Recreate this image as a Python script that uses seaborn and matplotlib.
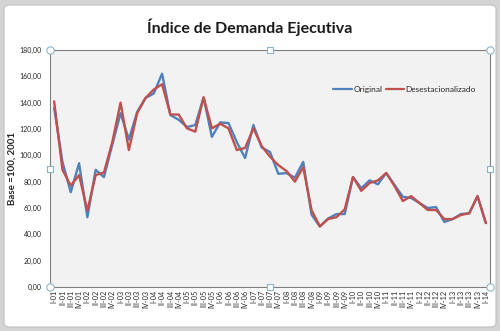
import matplotlib
matplotlib.use("Agg")
import matplotlib.pyplot as plt
from matplotlib.patches import FancyBboxPatch
import seaborn as sns
import pandas as pd
import numpy as np

quarters = []
for yr in range(1, 14):
    for q in ["I", "II", "III", "IV"]:
        quarters.append(f"{q}-{yr:02d}")
quarters.append("I-14")

original = [136, 95, 72, 94, 53, 89, 83.5, 108, 132, 112, 133, 143.5, 147, 162,
            130.6, 127, 121.5, 123, 144, 114, 125, 124.5, 110, 98, 123, 106,
            102.5, 86, 86.5, 83, 95, 55, 46, 52, 55.4, 55.4, 83.5, 75, 81, 78,
            86.6, 77.5, 68.5, 67.6, 63.8, 60, 60.7, 49.4, 51.6, 55.4, 56, 69, 48.6]
desest = [141, 89, 77, 85, 58, 85, 87, 110, 140, 104, 132, 143.5, 150, 154,
          131, 131, 120.5, 118, 144, 120.5, 124, 120.5, 104, 105.6, 120.5, 107,
          99, 92.6, 88, 80, 91, 58.5, 46, 51.6, 53, 59, 83.5, 73, 79, 81,
          86.6, 76.7, 65.3, 69, 63.8, 58.5, 58.5, 51.6, 51.6, 54.7, 56, 69, 48.6]

series_names = ["Original", "Desestacionalizado"]
colors = ["#4F81BD", "#C0504D"]

df = pd.DataFrame({
    "idx": list(range(len(quarters))) * 2,
    "valor": original + desest,
    "serie": [series_names[0]] * len(quarters) + [series_names[1]] * len(quarters),
})

sns.set_theme(style="white")
plt.rcParams["font.family"] = ["Lato", "DejaVu Sans"]

fig = plt.figure(figsize=(5, 3.31), dpi=100)
fig.patch.set_facecolor("#D4D4D4")
bg = FancyBboxPatch((4 / 500, 4 / 331), 492 / 500, 322 / 331,
                    boxstyle="round,pad=0,rounding_size=0.012",
                    transform=fig.transFigure, facecolor="white",
                    edgecolor="#BFBFBF", linewidth=0.8, zorder=-10)
fig.add_artist(bg)

ax = fig.add_axes([50 / 500, 1 - 287 / 331, 440 / 500, 237 / 331])
ax.set_zorder(1)
ax.set_facecolor("#F2F2F2")

sns.lineplot(data=df, x="idx", y="valor", hue="serie", palette=colors,
             linewidth=1.7, ax=ax, legend=True)

ax.set_xlim(-0.5, len(quarters) - 0.5)
ax.set_ylim(0, 180)
ax.set_yticks(np.arange(0, 181, 20))
ax.set_yticklabels([f"{v:.2f}".replace(".", ",") for v in np.arange(0, 181, 20)],
                   fontsize=5)
ax.set_xticks(range(len(quarters)))
ax.set_xticklabels(quarters, rotation=90, fontsize=5.2)
ax.tick_params(axis="x", length=0, pad=2)
ax.tick_params(axis="y", length=0, pad=6)
ax.set_xlabel("")
ax.set_ylabel("Base =100, 2001", fontsize=7, fontweight="bold", labelpad=2)

for s in ax.spines.values():
    s.set_color("#7F7F7F")
    s.set_linewidth(0.8)

leg = ax.legend(loc="upper right", bbox_to_anchor=(0.985, 0.88), ncol=2,
                frameon=False, fontsize=6, handlelength=2.2, handletextpad=0.2,
                columnspacing=0.4)
for line in leg.get_lines():
    line.set_linewidth(1.6)

fig.text(0.5, 1 - 27 / 331, "Índice de Demanda Ejecutiva", ha="center",
         va="center", fontsize=11.5, fontweight="bold", color="#1a1a1a")

# selection handles
hx = [0, 0.5, 1, 0, 1, 0, 0.5, 1]
hy = [1, 1, 1, 0.5, 0.5, 0, 0, 0]
hm = ["o", "s", "o", "s", "s", "o", "s", "o"]
for x, y, m in zip(hx, hy, hm):
    ax.scatter([x], [y], transform=ax.transAxes, marker=m,
               s=28 if m == "o" else 16, facecolor="white",
               edgecolor="#8EB4C8", linewidth=0.8, clip_on=False, zorder=5)

fig.savefig("out.png", dpi=100, facecolor=fig.get_facecolor())
